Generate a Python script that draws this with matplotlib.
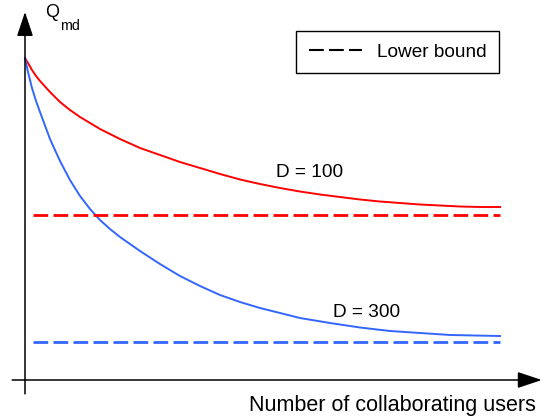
import matplotlib
matplotlib.use("Agg")
import matplotlib.pyplot as plt
from matplotlib.lines import Line2D

plt.rcParams['font.family'] = ['Liberation Sans', 'DejaVu Sans']

# datos (unidades normalizadas)
x_rojo = [0, 0.0063, 0.0147, 0.0232, 0.0316, 0.0526, 0.0737, 0.0947, 0.1158, 0.1579,
          0.2, 0.2421, 0.2842, 0.3263, 0.3684, 0.4105, 0.4526, 0.4947, 0.5368, 0.5789,
          0.6211, 0.6632, 0.7053, 0.7474, 0.7895, 0.8316, 0.8737, 0.9158, 0.9579, 1.0]
q_rojo = [1.0, 0.9845, 0.9627, 0.9441, 0.9286, 0.8944, 0.8634, 0.8385, 0.8168, 0.7795,
          0.7484, 0.7205, 0.6988, 0.6770, 0.6584, 0.6398, 0.6227, 0.6087, 0.5963, 0.5854,
          0.5761, 0.5683, 0.5606, 0.5543, 0.5497, 0.5450, 0.5419, 0.5388, 0.5373, 0.5373]

x_azul = [0, 0.0063, 0.0147, 0.0232, 0.0316, 0.0526, 0.0737, 0.0947, 0.1158, 0.1368,
          0.1579, 0.1789, 0.2, 0.2421, 0.2842, 0.3263, 0.3684, 0.4105, 0.4526, 0.4947,
          0.5368, 0.5789, 0.6421, 0.7053, 0.7684, 0.8316, 0.8947, 1.0]
q_azul = [1.0, 0.9565, 0.9068, 0.8665, 0.8323, 0.7484, 0.6801, 0.6211, 0.5714, 0.5311,
          0.4969, 0.4689, 0.4441, 0.4006, 0.3602, 0.3230, 0.2919, 0.2640, 0.2422, 0.2236,
          0.2081, 0.1925, 0.1770, 0.1630, 0.1522, 0.1460, 0.1398, 0.1366]

cota_rojo = 0.512
cota_azul = 0.1165
x_cota = [0.016, 1.0]

etiquetas = ['D = 100', 'D = 300']
pos_etiquetas = [(0.60, 0.643), (0.72, 0.211)]

ROJO = '#ff0000'
AZUL = '#3366ff'

fig = plt.figure(figsize=(5.47, 4.19), dpi=100)
ax = fig.add_axes([0, 0, 1, 1])
ax.set_xlim(-25 / 475, 522 / 475)
ax.set_ylim(-39 / 322, 380 / 322)
ax.axis('off')

# ejes con flecha
flecha = dict(arrowstyle='-|>,head_length=0.75,head_width=0.25', mutation_scale=20,
              color='k', lw=1.1, shrinkA=0, shrinkB=0)
ax.annotate('', xy=(1.088, 0), xytext=(-0.027, 0), arrowprops=flecha)
ax.annotate('', xy=(0, 1.143), xytext=(0, -0.043), arrowprops=flecha)

# curvas
ax.plot(x_rojo, q_rojo, color=ROJO, lw=1.4)
ax.plot(x_azul, q_azul, color=AZUL, lw=1.4)

# cotas inferiores
ax.plot(x_cota, [cota_rojo, cota_rojo], color=ROJO, lw=2, dashes=(5.3, 1.9))
ax.plot(x_cota, [cota_azul, cota_azul], color=AZUL, lw=2, dashes=(5.3, 1.9))

for txt, (xt, yt) in zip(etiquetas, pos_etiquetas):
    ax.text(xt, yt, txt, fontsize=13.7, ha='center', va='center')

ax.text(0.042, 1.140, 'Q', fontsize=13, ha='left', va='center')
ax.text(0.074, 1.100, 'md', fontsize=10.3, ha='left', va='center')
ax.text(1.076, -0.078, 'Number of collaborating users', fontsize=15.5,
        ha='right', va='center')

h = Line2D([], [], color='k', lw=1.5, dashes=(7.1, 2.5))
leg = ax.legend([h], ['Lower bound'], loc='upper right',
                bbox_to_anchor=(499 / 547, 1 - 31 / 419), bbox_transform=fig.transFigure,
                borderaxespad=0, fancybox=False, framealpha=1, edgecolor='k',
                fontsize=13.7, handlelength=2.8, handletextpad=0.8, borderpad=0.65)
leg.get_frame().set_linewidth(1.0)

fig.savefig('out.png', dpi=100)
